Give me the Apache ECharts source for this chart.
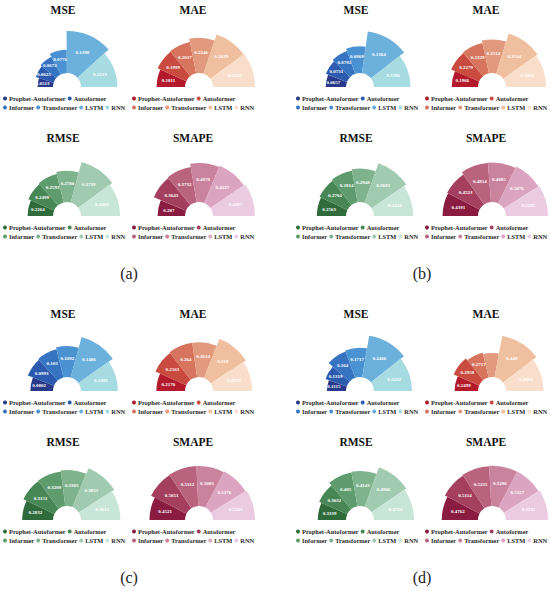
<!DOCTYPE html>
<html><head><meta charset="utf-8">
<script src="https://cdn.jsdelivr.net/npm/echarts@6/dist/echarts.min.js"></script>
<style>html,body{margin:0;padding:0;background:#fff}#c{width:550px;height:591px}</style>
</head><body><div id="c"></div>
<script>
const models = ['Prophet-Autoformer','Autoformer','Informer','Transformer','LSTM','RNN'];
const metrics = ['MSE','MAE','RMSE','SMAPE'];
const panelLabels = ['(a)','(b)','(c)','(d)'];

// values per panel (a-d) and metric
const a_MSE   = [0.0513, 0.0623, 0.0672, 0.0776, 0.1398, 0.1213];
const a_MAE   = [0.1811, 0.1999, 0.2037, 0.2246, 0.2639, 0.2682];
const a_RMSE  = [0.2264, 0.2499, 0.2593, 0.2786, 0.3739, 0.3483];
const a_SMAPE = [0.287, 0.3643, 0.3732, 0.4078, 0.4227, 0.4397];

const b_MSE   = [0.0657, 0.0731, 0.0792, 0.0869, 0.1364, 0.1186];
const b_MAE   = [0.1966, 0.2279, 0.2329, 0.2514, 0.3144, 0.3002];
const b_RMSE  = [0.2563, 0.2704, 0.2814, 0.2948, 0.3693, 0.3444];
const b_SMAPE = [0.4391, 0.4523, 0.4854, 0.4885, 0.5076, 0.5205];

const c_MSE   = [0.0802, 0.0993, 0.103, 0.1092, 0.1486, 0.1305];
const c_MAE   = [0.2176, 0.2563, 0.264, 0.2634, 0.319, 0.2979];
const c_RMSE  = [0.2832, 0.3151, 0.3209, 0.3305, 0.3855, 0.3612];
const c_SMAPE = [0.4521, 0.5051, 0.5112, 0.5083, 0.5176, 0.5343];

const d_MSE   = [0.1115, 0.1319, 0.164, 0.1717, 0.2466, 0.2232];
const d_MAE   = [0.2499, 0.2958, 0.2717, 0.2577, 0.449, 0.4012];
const d_RMSE  = [0.3339, 0.3632, 0.405, 0.4143, 0.4966, 0.4724];
const d_SMAPE = [0.4762, 0.5114, 0.5235, 0.5296, 0.5327, 0.5511];

const panelData = [
  [a_MSE, a_MAE, a_RMSE, a_SMAPE],
  [b_MSE, b_MAE, b_RMSE, b_SMAPE],
  [c_MSE, c_MAE, c_RMSE, c_SMAPE],
  [d_MSE, d_MAE, d_RMSE, d_SMAPE]
];

const palettes = {
  MSE:   ['#28388a', '#2c5aae', '#3674c2', '#4b92d2', '#6cb0dc', '#a7dbe2'],
  MAE:   ['#b31b2c', '#c94a3f', '#d6745d', '#e29a7e', '#efbf9f', '#f9dfcb'],
  RMSE:  ['#2f6b3b', '#478655', '#5f9c6d', '#7fb38d', '#a0cbb0', '#c8e6d8'],
  SMAPE: ['#8a1c41', '#a43f60', '#b9637f', '#ca839c', '#dba4c0', '#ebcbe2']
};

// layout
const panelOrigin = [[0, 0], [293, 0], [0, 304], [293, 304]];
const colCx = [67, 199];          // pie centre x within panel
const colTitleX = [63, 193];
const colLegendX = [3, 132];
const rowBase = [87, 216];        // pie baseline y
const rowTitleY = [11, 139];
const panelLabelPos = [129, 274];

const serif = '"Liberation Serif", "Times New Roman", serif';
const title = [], legend = [], series = [];

panelData.forEach((metricsData, p) => {
  const [ox, oy] = panelOrigin[p];
  title.push({
    text: panelLabels[p], left: ox + panelLabelPos[0], top: oy + panelLabelPos[1] - 9,
    textAlign: 'center', padding: 0,
    textStyle: {fontFamily: serif, fontSize: 16, fontWeight: 'normal', color: '#222'}
  });
  metricsData.forEach((vals, m) => {
    const col = m % 2, row = Math.floor(m / 2);
    const name = metrics[m];
    const colors = palettes[name];
    const cx = ox + colCx[col], cy = oy + rowBase[row];
    title.push({
      text: name, left: ox + colTitleX[col], top: oy + rowTitleY[row] - 7,
      textAlign: 'center', padding: 0,
      textStyle: {fontFamily: serif, fontSize: 11.5, fontWeight: 'bold', color: '#111'}
    });
    const mk = (names, top) => ({
      left: ox + colLegendX[col], top: top, width: 250, orient: 'horizontal', padding: 0,
      itemWidth: 4, itemHeight: 4, itemGap: 2, icon: 'circle',
      selectedMode: false,
      textStyle: {fontFamily: serif, fontSize: 6.4, fontWeight: 'bold', color: '#2a2a2a', padding: [0, 0, 0, -3]},
      data: names.map(n => ({name: n, itemStyle: {color: colors[models.indexOf(n)]}}))
    });
    legend.push(mk(models.slice(0, 2), cy + 8.5));
    legend.push(mk(models.slice(2), cy + 17.5));
    series.push({
      type: 'pie', roseType: 'area',
      center: [cx, cy], radius: [14, 56],
      startAngle: 180, endAngle: 0, clockwise: true,
      silent: true, animation: false,
      label: {show: true, position: 'inside', color: '#fff', fontSize: 5,
              fontFamily: serif, fontWeight: 'bold', formatter: '{c}'},
      labelLine: {show: false},
      data: models.map((n, i) => ({name: n, value: vals[i], itemStyle: {color: colors[i]}}))
    });
  });
});

const chart = echarts.init(document.getElementById('c'), null, {renderer: 'svg'});
chart.setOption({backgroundColor: '#fff', animation: false, title, legend, series});
</script>
</body></html>
